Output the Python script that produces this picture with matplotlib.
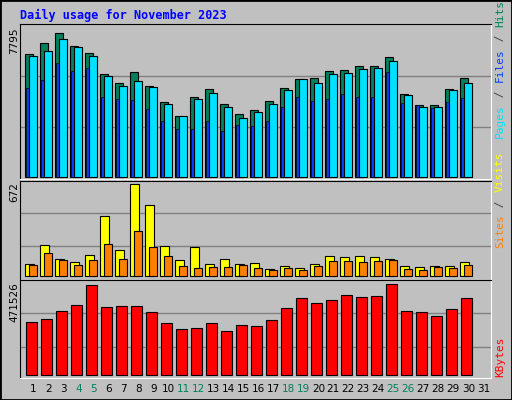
import matplotlib
matplotlib.use("Agg")
import matplotlib.pyplot as plt
from matplotlib.patches import Rectangle

days = list(range(1, 31))
hits = [6470, 7050, 7580, 6890, 6520, 5410, 4930, 5520, 4790, 3940,
        3200, 4200, 4620, 3830, 3300, 3510, 3990, 4670, 5150, 5200,
        5590, 5620, 5850, 5850, 6330, 4380, 3790, 3790, 4620, 5200]
files = [6360, 6630, 7270, 6840, 6360, 5310, 4820, 5080, 4740, 3830,
         3200, 4090, 4410, 3670, 3090, 3400, 3830, 4570, 5150, 4940,
         5420, 5470, 5700, 5770, 6120, 4320, 3670, 3670, 4570, 4940]
pages = [4680, 5100, 6000, 5570, 5730, 4200, 4090, 4040, 3560, 2930,
         2500, 2500, 2930, 2400, 2720, 2660, 2930, 3670, 4200, 3990,
         4090, 4360, 4200, 4200, 5520, 3880, 3780, 3620, 3940, 4150]
sites = [88, 227, 124, 102, 154, 440, 190, 672, 518, 219,
         117, 212, 88, 124, 88, 95, 51, 73, 58, 88,
         146, 139, 146, 139, 124, 73, 66, 73, 73, 102]
visits = [80, 168, 117, 80, 117, 234, 124, 329, 212, 146,
          73, 58, 66, 66, 80, 58, 44, 58, 44, 73,
          110, 110, 102, 110, 117, 51, 44, 66, 58, 80]
kbytes = [277700, 293400, 335300, 366700, 471500, 356300, 361500, 361500, 330100, 272400,
          241000, 246200, 272400, 230500, 262000, 256700, 288200, 351000, 403400, 377200,
          392900, 419100, 408700, 413900, 476800, 335300, 330100, 309100, 345800, 403400]
KMAX = 471526
weekend = [4, 5, 11, 12, 18, 19, 25, 26]

C_HITS, C_FILES, C_PAGES = "#00805c", "#00e0ff", "#0040ff"
C_SITES, C_VISITS, C_KB = "#ffff00", "#ff8000", "#ff0000"
BG = "#c0c0c0"

W, H = 512, 400
fig = plt.figure(figsize=(W / 100, H / 100), dpi=100, facecolor=BG)
fig.patches.append(Rectangle((0, 0), 1, 1, transform=fig.transFigure, fill=False,
                             edgecolor="black", linewidth=2))


def panel(top, bottom):
    ax = fig.add_axes([20 / W, 1 - bottom / H, 471 / W, (bottom - top) / H])
    ax.set_facecolor(BG)
    ax.set_xlim(0, 31.4)
    ax.set_xticks([])
    ax.set_yticks([])
    for s in ax.spines.values():
        s.set_color("black")
    ax.spines["right"].set_color("white")
    ax.spines["bottom"].set_color("white")
    return ax


def bars(ax, x0, x1, vals, color, z=3):
    ax.bar([d - 1 + x0 for d in days], vals, width=x1 - x0, align="edge",
           color=color, edgecolor="black", linewidth=0.8, zorder=z)


# top: hits / files / pages
tmax = 7795
ax1 = panel(24.3, 179)
ax1.set_ylim(-122, tmax * (1 + 5 / 147.4))
for g in (0.335, 0.68):
    ax1.axhline(tmax * g, color="#808080", lw=1, zorder=1)
bars(ax1, 0.35, 0.85, hits, C_HITS)
ax1.bar([d - 1 + 0.42 for d in days], pages, width=0.2, align="edge",
        color=C_PAGES, edgecolor="black", linewidth=0.5, zorder=4)
bars(ax1, 0.62, 1.11, files, C_FILES, z=5)

# middle: sites / visits
mmax = 672
ax2 = panel(180.7, 280.3)
ax2.set_ylim(-mmax * 4 / 92, mmax * (1 + 3.6 / 92))
for g in (0.326, 0.685):
    ax2.axhline(mmax * g, color="#808080", lw=1, zorder=1)
bars(ax2, 0.35, 0.91, sites, C_SITES)
bars(ax2, 0.62, 1.11, visits, C_VISITS)

# bottom: kbytes
ax3 = panel(280.3, 378.3)
ax3.set_ylim(-KMAX * 3 / 90, KMAX * (1 + 5 / 90))
for g in (0.32, 0.69):
    ax3.axhline(KMAX * g, color="#808080", lw=1, zorder=1)
bars(ax3, 0.42, 1.11, kbytes, C_KB)

# day labels
for d in range(1, 32):
    fig.text((20 + (d - 1 + 0.89) * 15) / W, 1 - 389 / H, str(d), ha="center", va="center",
             fontsize=7.5, color=C_HITS if d in weekend else "black")

fig.text(20 / W, 1 - 15 / H, "Daily usage for November 2023", fontsize=8.5,
         family="DejaVu Sans Mono", fontweight="bold", color="#0000ff", va="center")

for y, s in ((27, "7795"), (182, "672"), (282, "471526")):
    fig.text(14 / W, 1 - y / H, s, rotation=90, ha="center", va="top", fontsize=7.5)

FS = 8
CW = 0.602 * FS * 100 / 72


def side(parts, y_bottom):
    y = y_bottom
    for s, c in parts:
        fig.text(500 / W, 1 - y / H, s, rotation=90, ha="center", va="bottom",
                 fontsize=FS, family="DejaVu Sans Mono", color=c)
        y -= len(s) * CW + 1


side([("Pages", C_FILES), (" / ", "#404040"), ("Files", C_PAGES), (" / ", "#404040"),
      ("Hits", C_HITS)], 138)
side([("Sites", C_VISITS), (" / ", "#404040"), ("Visits", C_SITES)], 248)
side([("KBytes", C_KB)], 377)

fig.savefig("out.png", dpi=100, facecolor=BG)
